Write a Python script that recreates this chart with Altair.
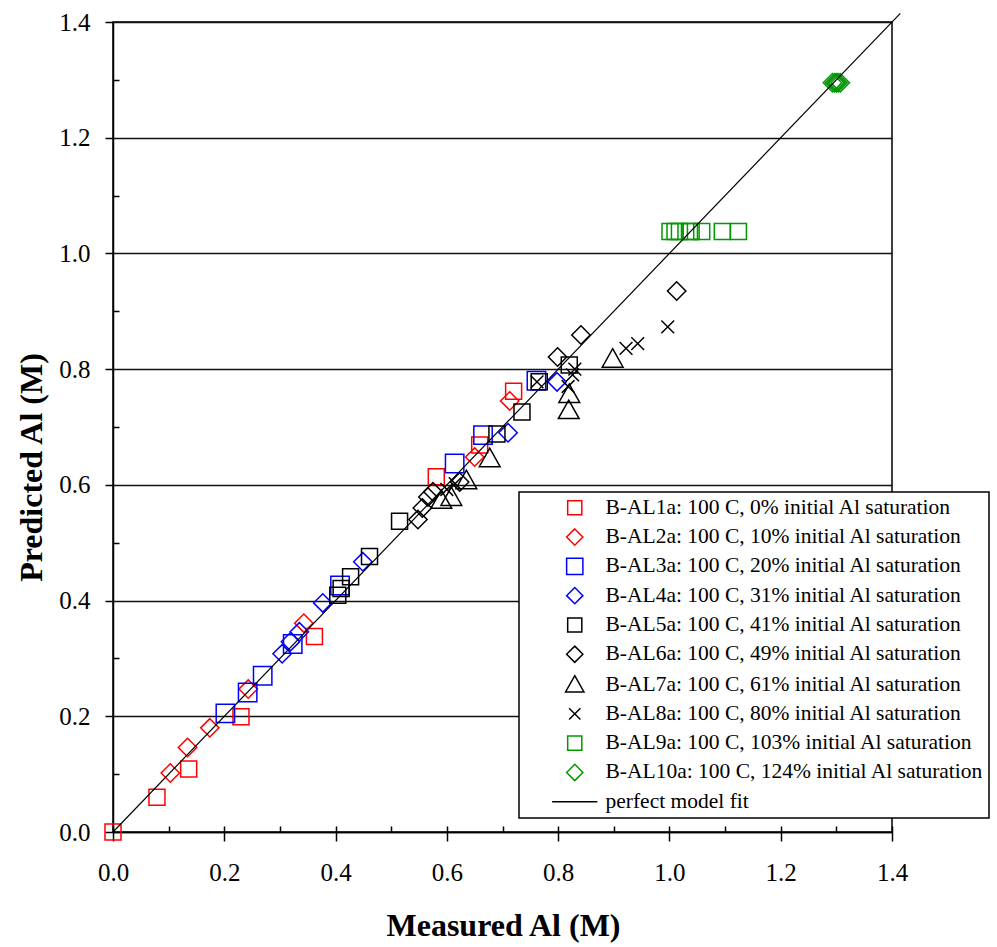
import altair as alt
import pandas as pd

FONT = "Liberation Serif"

series_names = [
    "B-AL1a: 100 C, 0% initial Al saturation",
    "B-AL2a: 100 C, 10% initial Al saturation",
    "B-AL3a: 100 C, 20% initial Al saturation",
    "B-AL4a: 100 C, 31% initial Al saturation",
    "B-AL5a: 100 C, 41% initial Al saturation",
    "B-AL6a: 100 C, 49% initial Al saturation",
    "B-AL7a: 100 C, 61% initial Al saturation",
    "B-AL8a: 100 C, 80% initial Al saturation",
    "B-AL9a: 100 C, 103% initial Al saturation",
    "B-AL10a: 100 C, 124% initial Al saturation",
]
fit_name = "perfect model fit"

s1_x = [0.0, 0.079, 0.136, 0.230, 0.362, 0.581, 0.659, 0.720]
s1_y = [0.0, 0.060, 0.109, 0.199, 0.338, 0.614, 0.669, 0.762]
s2_x = [0.103, 0.134, 0.174, 0.243, 0.343, 0.650, 0.713]
s2_y = [0.102, 0.146, 0.180, 0.247, 0.361, 0.648, 0.745]
s3_x = [0.202, 0.242, 0.269, 0.323, 0.408, 0.614, 0.665, 0.761]
s3_y = [0.205, 0.241, 0.270, 0.325, 0.426, 0.637, 0.686, 0.780]
s4_x = [0.304, 0.319, 0.335, 0.377, 0.449, 0.710, 0.798]
s4_y = [0.308, 0.329, 0.346, 0.396, 0.467, 0.690, 0.778]
s5_x = [0.404, 0.410, 0.427, 0.461, 0.515, 0.690, 0.735, 0.766, 0.820]
s5_y = [0.409, 0.421, 0.441, 0.476, 0.537, 0.688, 0.726, 0.778, 0.807]
s6_x = [0.548, 0.556, 0.566, 0.575, 0.623, 0.799, 0.841, 1.013]
s6_y = [0.540, 0.560, 0.579, 0.588, 0.605, 0.821, 0.859, 0.935]
s7_x = [0.590, 0.608, 0.635, 0.677, 0.819, 0.820, 0.898]
s7_y = [0.574, 0.579, 0.608, 0.646, 0.729, 0.757, 0.818]
s8_x = [0.600, 0.615, 0.762, 0.818, 0.826, 0.830, 0.922, 0.943, 0.997]
s8_y = [0.592, 0.602, 0.778, 0.770, 0.790, 0.800, 0.836, 0.844, 0.873]
s9_x = [1.001, 1.010, 1.018, 1.036, 1.039, 1.058, 1.095, 1.124]
s9_y = [1.038, 1.038, 1.038, 1.038, 1.038, 1.038, 1.038, 1.038]
s10_x = [1.293, 1.297, 1.300, 1.303, 1.307]
s10_y = [1.295, 1.295, 1.295, 1.295, 1.295]

fit_x = [0.0, 1.415]
fit_y = [0.0, 1.415]

major_ticks = [0.0, 0.2, 0.4, 0.6, 0.8, 1.0, 1.2, 1.4]
x_all_ticks = [0.0, 0.1, 0.2, 0.3, 0.4, 0.5, 0.6, 0.7, 0.8, 0.9, 1.0, 1.1, 1.2, 1.3, 1.4]
y_minor_ticks = [0.1, 0.3, 0.5, 0.7, 0.9, 1.1, 1.3]

colors = ["#ff0000", "#ff0000", "#0000ff", "#0000ff", "#000000", "#000000",
          "#000000", "#000000", "#009900", "#009900", "#000000"]
SQ = "M-1,-1H1V1H-1Z"
SQB = "M-1.15,-1.15H1.15V1.15H-1.15Z"
DM = "M0,-1.15L1.15,0L0,1.15L-1.15,0Z"
TRI = "M0,-1.25L1.3,1.05L-1.3,1.05Z"
XX = "M-0.8,-0.8L0.8,0.8M0.8,-0.8L-0.8,0.8"
LN = "M-3.2,0H3.2"
shapes = [SQ, DM, SQB, DM, SQ, DM, TRI, XX, SQ, DM, LN]

all_x = [s1_x, s2_x, s3_x, s4_x, s5_x, s6_x, s7_x, s8_x, s9_x, s10_x]
all_y = [s1_y, s2_y, s3_y, s4_y, s5_y, s6_y, s7_y, s8_y, s9_y, s10_y]
rows = []
for k, (name, xs, ys) in enumerate(zip(series_names, all_x, all_y)):
    for a, b in zip(xs, ys):
        rows.append({"series": name, "measured": a, "predicted": b, "k": k})
df = pd.DataFrame(rows)
fit_df = pd.DataFrame({"measured": fit_x, "predicted": fit_y})

legend_domain = series_names + [fit_name]
xscale = alt.Scale(domain=[0, 1.4], nice=False, zero=False)
yscale = alt.Scale(domain=[0, 1.4], nice=False, zero=False)

leg = alt.Legend(
    title=None, orient="none", legendX=406, legendY=470, padding=5,
    symbolOffset=40, labelOffset=20, labelFont=FONT, labelFontSize=21.5,
    labelColor="black", labelLimit=700, rowPadding=6.3, symbolSize=200,
    symbolStrokeWidth=1.5, strokeColor="black", fillColor="white",
)

points = alt.Chart(df).mark_point(filled=False, size=256, strokeWidth=1.5, opacity=1).encode(
    x=alt.X("measured:Q", scale=xscale, title="Measured Al (M)",
            axis=alt.Axis(orient="bottom", values=major_ticks, format=".1f",
                          tickSize=9, tickColor="black", tickWidth=1.5,
                          domainColor="black", domainWidth=1.5, grid=False,
                          labelFont=FONT, labelFontSize=25, labelColor="black",
                          labelFlush=False, labelOverlap=False,
                          labelPadding=19, titleFont=FONT, titleFontSize=32,
                          titleFontWeight="bold", titleColor="black",
                          titleX=390, titleY=93, titleBaseline="middle",
                          titleAlign="center")),
    y=alt.Y("predicted:Q", scale=yscale, title="Predicted Al (M)",
            axis=alt.Axis(orient="left", values=major_ticks, format=".1f",
                          tickSize=8, tickColor="black", tickWidth=1.5,
                          domainColor="black", domainWidth=1.5, grid=True,
                          gridColor="#111111", gridWidth=1.5,
                          labelFont=FONT, labelFontSize=25, labelColor="black",
                          labelFlush=False, labelOverlap=False,
                          labelPadding=15, titleFont=FONT, titleFontSize=32,
                          titleFontWeight="bold", titleColor="black",
                          titleX=-82, titleY=445, titleBaseline="middle",
                          titleAlign="center", titleAngle=270)),
    color=alt.Color("series:N", scale=alt.Scale(domain=legend_domain, range=colors), legend=leg),
    shape=alt.Shape("series:N", scale=alt.Scale(domain=legend_domain, range=shapes), legend=leg),
    order=alt.Order("k:Q"),
)

line = alt.Chart(fit_df).mark_line(color="black", strokeWidth=1.2, clip=False).encode(
    x=alt.X("measured:Q", scale=xscale, title=None,
            axis=alt.Axis(orient="bottom", offset=-6, values=x_all_ticks, tickSize=6,
                          tickColor="black", tickWidth=1.5, domain=False,
                          labels=False, grid=False)),
    y=alt.Y("predicted:Q", scale=yscale, title=None,
            axis=alt.Axis(orient="left", offset=-6, values=y_minor_ticks, tickSize=6,
                          tickColor="black", tickWidth=1.5, domain=False,
                          labels=False, grid=False)),
)

chart = alt.layer(points, line).resolve_axis(x="independent", y="independent").properties(
    width=779, height=810,
    padding={"left": 113, "top": 22, "right": 105, "bottom": 115},
    autosize=alt.AutoSizeParams(type="none"),
).configure_view(stroke="black", strokeWidth=1.5).configure_legend(strokeWidth=1.5)

chart.save("out.html", embed_options={"renderer": "svg", "actions": False})
